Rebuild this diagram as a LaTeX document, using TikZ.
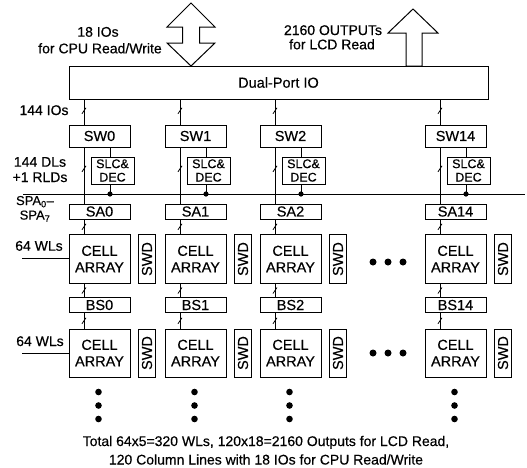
\documentclass[tikz,border=0pt]{standalone}
\usepackage{fontspec}
\setmainfont{Liberation Sans}[FakeBold=0.4]
\usetikzlibrary{calc}
\begin{document}
\begin{tikzpicture}[x=1pt,y=-1pt,line width=1pt,
  txt/.style={font=\fontsize{14}{16}\selectfont,inner sep=0pt,anchor=base},
  box/.style={draw,line width=1pt,inner sep=0pt,minimum width=61pt,align=center,font=\fontsize{14.5}{16.5}\selectfont},
  slcbox/.style={box,minimum width=43pt,minimum height=27pt,font=\fontsize{12.5}{13.4}\selectfont},
  swdbox/.style={box,minimum width=17pt},
  busmark/.pic={\draw[line width=0.8pt] (-2,3) -- (2,-3);}
]
\useasboundingbox (0,0) rectangle (527,467);

% Dual-port IO
\node[box,minimum width=419pt,minimum height=33pt] (dp) at (278.5,82.5) {Dual-Port IO};

% arrows
\draw[line width=1pt] (191,3) -- (215,27) -- (199.5,27) -- (199.5,43) -- (215,43) -- (191,66)
  -- (167,43) -- (182.5,43) -- (182.5,27) -- (167,27) -- cycle;
\draw[line width=1pt] (413,9) -- (438,33) -- (422,33) -- (422,66) -- (406,66) -- (406,33) -- (388,33) -- cycle;

\node[txt] (l18) at (98,36.7) {18 IOs};
\node[txt] (lcpu) at (100,53.3) {for CPU Read/Write};
\node[txt] (l2160) at (333,35) {2160 OUTPUTs};
\node[txt] (llcd) at (332,49.3) {for LCD Read};

% left labels
\node[txt] (l144) at (44,115) {144 IOs};
\node[txt] (ldl) at (40,166.7) {144 DLs};
\node[txt] (lrld) at (40,182) {+1 RLDs};
\node[txt,anchor=north,align=center,font=\fontsize{13}{14.5}\selectfont] (lspa) at (35,195.5)
  {SPA\textsubscript{0}–\\SPA\textsubscript{7}};
\node[txt] (lwa) at (39,250.7) {64 WLs};
\node[txt] (lwb) at (40,346) {64 WLs};

% horizontal line
\coordinate (hl) at (23,194);
\coordinate (hr) at (525,194);
\draw (hl) -- (hr);

\foreach \L/\n in {69/0,165/1,260/2,425/14} {
  \node[box,minimum height=22pt] (sw\n) at (\L+30.5,136) {SW\n};
  \node[slcbox] (slc\n) at (\L+43.5,170.5) {SLC\&\\DEC};
  \node[box,minimum height=15pt] (sa\n) at (\L+30.5,211.5) {SA\n};
  \node[box,minimum height=49pt] (ca\n) at (\L+30.5,259) {CELL\\ARRAY};
  \node[swdbox,minimum height=49pt] (swda\n) at (\L+78,259) {\rotatebox{90}{SWD}};
  \node[box,minimum height=15pt] (bs\n) at (\L+30.5,305) {BS\n};
  \node[box,minimum height=48pt] (cb\n) at (\L+30.5,353) {CELL\\ARRAY};
  \node[swdbox,minimum height=48pt] (swdb\n) at (\L+78,353) {\rotatebox{90}{SWD}};
  \coordinate (v\n) at (\L+15,0);
  \coordinate (d\n) at (\L+41,194);
  \draw (dp.south -| v\n) -- pic[pos=0.45]{busmark} (sw\n.north -| v\n);
  \draw (sw\n.south -| v\n) -- pic[pos=0.38]{busmark} (sa\n.north -| v\n);
  \draw (sa\n.south -| v\n) -- pic[pos=0.5]{busmark} (ca\n.north -| v\n);
  \draw (ca\n.south -| v\n) -- pic[pos=0.5]{busmark} (bs\n.north -| v\n);
  \draw (bs\n.south -| v\n) -- pic[pos=0.5]{busmark} (cb\n.north -| v\n);
  \draw (sw\n.south -| d\n) -- (slc\n.north -| d\n);
  \draw (slc\n.south -| d\n) -- (d\n);
  \fill (d\n) circle (2.6);
  \fill (\L+29.5,392) circle (3.3);
  \fill (\L+29.5,405.5) circle (3.3);
  \fill (\L+29.5,419) circle (3.3);
}

% word lines
\coordinate (wla) at (22,258);
\coordinate (wlb) at (22,353);
\draw (wla) -- (ca0.west |- wla);
\draw (wlb) -- (cb0.west |- wlb);

% horizontal dots
\foreach \y in {262,353} {
  \fill (373,\y) circle (3.5);
  \fill (388,\y) circle (3.5);
  \fill (403,\y) circle (3.5);
}

% bottom text
\node[txt] (bt1) at (266,446) {Total 64x5=320 WLs, 120x18=2160 Outputs for LCD Read,};
\node[txt] (bt2) at (266,464.5) {120 Column Lines with 18 IOs for CPU Read/Write};
\end{tikzpicture}
\end{document}
